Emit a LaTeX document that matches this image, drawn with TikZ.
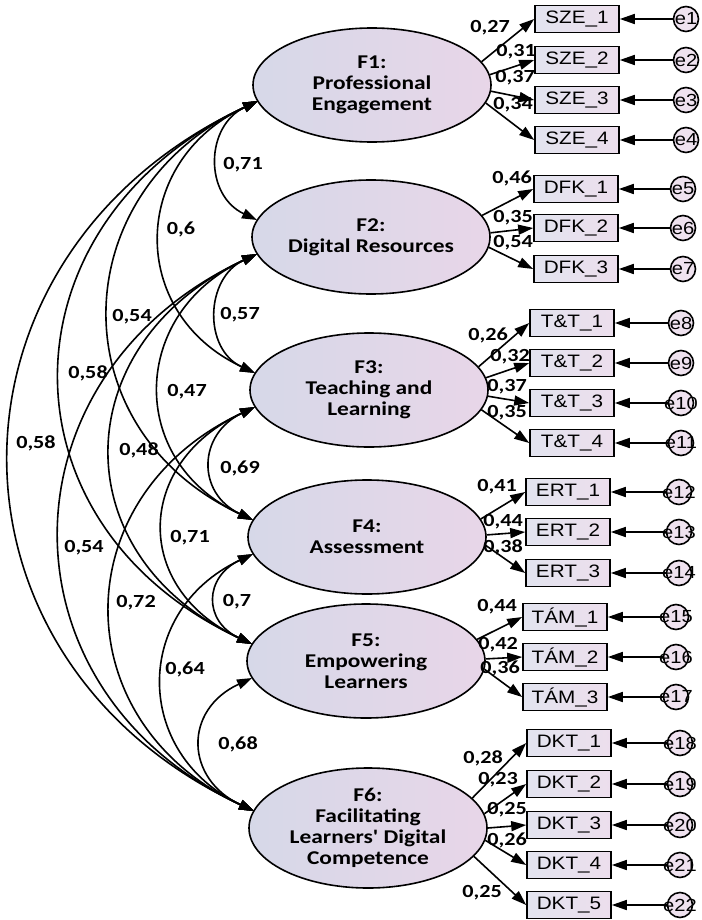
\documentclass[tikz,border=0pt]{standalone}
\usepackage{fontspec}
\setmainfont{Carlito}
\newfontfamily\elfont[FakeStretch=1.2]{Carlito}
\newfontfamily\boxfont[FakeStretch=1.15]{Liberation Sans}
\usetikzlibrary{shapes.geometric,arrows.meta,calc}
\definecolor{elfill}{RGB}{214,216,232}
\definecolor{elpink}{RGB}{232,214,232}
\newcommand{\zc}[1]{\makebox[0pt][c]{#1}}
\tikzset{
  lat/.style={ellipse, draw, line width=1.6pt, minimum width=238pt, minimum height=114pt, inner sep=0pt,
    left color=elfill, middle color=elfill, right color=elpink, align=center,
    font=\elfont\bfseries\fontsize{19.5}{21}\selectfont},
  obs/.style={rectangle, draw, line width=1.6pt, minimum width=84pt, minimum height=27pt, inner sep=0pt,
    left color=elfill!70!white, right color=elpink!80!white, font=\boxfont\fontsize{18}{18}\selectfont},
  err/.style={circle, draw, line width=1.6pt, minimum size=25pt, inner sep=0pt,
    fill=elpink!70!white, font=\boxfont\fontsize{17.5}{17.5}\selectfont},
  load/.style={line width=1.6pt, -{Triangle[length=15pt,width=10pt]}},
  cov/.style={line width=1.6pt, {Triangle[length=15pt,width=10pt]}-{Triangle[length=15pt,width=10pt]}},
  num/.style={font=\elfont\bfseries\fontsize{18.5}{18.5}\selectfont, inner sep=0pt},
}
\begin{document}
\begin{tikzpicture}[x=1pt,y=-1pt]
\fill[white] (0,0) rectangle (701,920);
\useasboundingbox (0,0) rectangle (701,920);

% latent factors
\node[lat] (F1) at (372,85) {F1:\\Professional\\Engagement};
\node[lat] (F2) at (371,237) {F2:\\Digital Resources};
\node[lat] (F3) at (369,390) {F3:\\Teaching and\\Learning};
\node[lat] (F4) at (367,537) {F4:\\Assessment};
\node[lat] (F5) at (366,661) {F5:\\Empowering\\Learners};
\node[lat, minimum height=120pt] (F6) at (368,828) {F6:\\Facilitating\\Learners' Digital\\Competence};

% attach points
\coordinate (F1b) at (258,101);
\coordinate (F2t) at (257,220);
\coordinate (F2b) at (257,254);
\coordinate (F3t) at (255,373);
\coordinate (F3b) at (255,407);
\coordinate (F4t) at (253,520);
\coordinate (F4b) at (253,554);
\coordinate (F5t) at (252,644);
\coordinate (F5b) at (252,678);
\coordinate (F6t) at (254,811);

% covariances
\draw[cov] (F1b) .. controls ($(F1b)+(-53,25)$) and ($(F2t)+(-53,-25)$) .. (F2t);
\draw[cov] (F2b) .. controls ($(F2b)+(-52,24)$) and ($(F3t)+(-52,-24)$) .. (F3t);
\draw[cov] (F3b) .. controls ($(F3b)+(-57,27)$) and ($(F4t)+(-57,-27)$) .. (F4t);
\draw[cov] (F4b) .. controls ($(F4b)+(-49,23)$) and ($(F5t)+(-49,-23)$) .. (F5t);
\draw[cov] (F5b) .. controls ($(F5b)+(-69,32)$) and ($(F6t)+(-69,-32)$) .. (F6t);
\draw[cov] (F1b) .. controls ($(F1b)+(-128,60)$) and ($(F3t)+(-128,-60)$) .. (F3t);
\draw[cov] (F2b) .. controls ($(F2b)+(-127,59)$) and ($(F4t)+(-127,-59)$) .. (F4t);
\draw[cov] (F3b) .. controls ($(F3b)+(-120,56)$) and ($(F5t)+(-120,-56)$) .. (F5t);
\draw[cov] (F4b) .. controls ($(F4b)+(-121,57)$) and ($(F6t)+(-121,-57)$) .. (F6t);
\draw[cov] (F1b) .. controls ($(F1b)+(-195,91)$) and ($(F4t)+(-195,-91)$) .. (F4t);
\draw[cov] (F2b) .. controls ($(F2b)+(-191,89)$) and ($(F5t)+(-191,-89)$) .. (F5t);
\draw[cov] (F3b) .. controls ($(F3b)+(-191,89)$) and ($(F6t)+(-191,-89)$) .. (F6t);
\draw[cov] (F1b) .. controls ($(F1b)+(-259,121)$) and ($(F5t)+(-259,-121)$) .. (F5t);
\draw[cov] (F2b) .. controls ($(F2b)+(-260,121)$) and ($(F6t)+(-260,-121)$) .. (F6t);
\draw[cov] (F1b) .. controls ($(F1b)+(-328,153)$) and ($(F6t)+(-328,-153)$) .. (F6t);

% covariance labels
\node[num] (c12) at (243,165) {0,71};
\node[num] (c13) at (181,229) {0,6};
\node[num] (c14) at (132,317) {0,54};
\node[num] (c15) at (88,373) {0,58};
\node[num] (c16) at (36,443) {0,58};
\node[num] (c23) at (240,315) {0,57};
\node[num] (c24) at (187,392) {0,47};
\node[num] (c25) at (139,450) {0,48};
\node[num] (c26) at (84,548) {0,54};
\node[num] (c34) at (240,468) {0,69};
\node[num] (c35) at (190,538) {0,71};
\node[num] (c36) at (136,603) {0,72};
\node[num] (c45) at (237,602) {0,7};
\node[num] (c46) at (185,669) {0,64};
\node[num] (c56) at (238,744) {0,68};

% observed indicators
\node[obs] (SZE1) at (577,19) {SZE\_1};
\node[obs] (SZE2) at (577,60) {SZE\_2};
\node[obs] (SZE3) at (577,100) {SZE\_3};
\node[obs] (SZE4) at (577,140) {SZE\_4};
\node[obs] (DFK1) at (576,189) {DFK\_1};
\node[obs] (DFK2) at (576,228) {DFK\_2};
\node[obs] (DFK3) at (576,269) {DFK\_3};
\node[obs] (TT1) at (572,323) {T\&T\_1};
\node[obs] (TT2) at (572,363) {T\&T\_2};
\node[obs] (TT3) at (572,403) {T\&T\_3};
\node[obs] (TT4) at (572,443) {T\&T\_4};
\node[obs] (ERT1) at (568,492) {ERT\_1};
\node[obs] (ERT2) at (568,532) {ERT\_2};
\node[obs] (ERT3) at (568,573) {ERT\_3};
\node[obs] (TAM1) at (565,617) {TÁM\_1};
\node[obs] (TAM2) at (565,657) {TÁM\_2};
\node[obs] (TAM3) at (565,697) {TÁM\_3};
\node[obs] (DKT1) at (569,743) {DKT\_1};
\node[obs] (DKT2) at (569,784) {DKT\_2};
\node[obs] (DKT3) at (569,825) {DKT\_3};
\node[obs] (DKT4) at (569,865) {DKT\_4};
\node[obs] (DKT5) at (569,905) {DKT\_5};

% error terms
\node[err] (e1) at (686,19) {\zc{e1}};
\node[err] (e2) at (686,60) {\zc{e2}};
\node[err] (e3) at (686,100) {\zc{e3}};
\node[err] (e4) at (686,140) {\zc{e4}};
\node[err] (e5) at (683,189) {\zc{e5}};
\node[err] (e6) at (683,228) {\zc{e6}};
\node[err] (e7) at (683,269) {\zc{e7}};
\node[err] (e8) at (681,323) {\zc{e8}};
\node[err] (e9) at (681,363) {\zc{e9}};
\node[err] (e10) at (681,403) {\zc{e10}};
\node[err] (e11) at (681,443) {\zc{e11}};
\node[err] (e12) at (679,492) {\zc{e12}};
\node[err] (e13) at (679,532) {\zc{e13}};
\node[err] (e14) at (679,573) {\zc{e14}};
\node[err] (e15) at (676,617) {\zc{e15}};
\node[err] (e16) at (676,657) {\zc{e16}};
\node[err] (e17) at (676,697) {\zc{e17}};
\node[err] (e18) at (680,743) {\zc{e18}};
\node[err] (e19) at (680,784) {\zc{e19}};
\node[err] (e20) at (680,825) {\zc{e20}};
\node[err] (e21) at (680,865) {\zc{e21}};
\node[err] (e22) at (680,905) {\zc{e22}};

\foreach \e/\b in {e1/SZE1,e2/SZE2,e3/SZE3,e4/SZE4,e5/DFK1,e6/DFK2,e7/DFK3,
  e8/TT1,e9/TT2,e10/TT3,e11/TT4,e12/ERT1,e13/ERT2,e14/ERT3,e15/TAM1,e16/TAM2,e17/TAM3,
  e18/DKT1,e19/DKT2,e20/DKT3,e21/DKT4,e22/DKT5}
  \draw[load] (\e) -- (\b);

% loadings
\draw[load] (F1.12) -- (SZE1.west);
\draw[load] (F1.5) -- (SZE2.west);
\draw[load] (F1.-3) -- (SZE3.west);
\draw[load] (F1.-9) -- (SZE4.west);
\draw[load] (F2.11) -- (DFK1.west);
\draw[load] (F2.2) -- (DFK2.west);
\draw[load] (F2.-5) -- (DFK3.west);
\draw[load] (F3.12) -- (TT1.west);
\draw[load] (F3.6) -- (TT2.west);
\draw[load] (F3.-3) -- (TT3.west);
\draw[load] (F3.-10) -- (TT4.west);
\draw[load] (F4.9) -- (ERT1.west);
\draw[load] (F4.1) -- (ERT2.west);
\draw[load] (F4.-4) -- (ERT3.west);
\draw[load] (F5.11) -- (TAM1.west);
\draw[load] (F5.1) -- (TAM2.west);
\draw[load] (F5.-4) -- (TAM3.west);
\draw[load] (F6.16) -- (DKT1.west);
\draw[load] (F6.7) -- (DKT2.west);
\draw[load] (F6.0) -- (DKT3.west);
\draw[load] (F6.-6) -- (DKT4.west);
\draw[load] (F6.-15) -- (DKT5.west);

% loading labels
\node[num] (s1) at (490,28) {0,27};
\node[num] (s2) at (516,52) {0,31};
\node[num] (s3) at (515,78) {0,37};
\node[num] (s4) at (513,105) {0,34};
\node[num] (d1) at (512,178) {0,46};
\node[num] (d2) at (513,218) {0,35};
\node[num] (d3) at (513,243) {0,54};
\node[num] (t1) at (488,335) {0,26};
\node[num] (t2) at (510,357) {0,32};
\node[num] (t3) at (507,387) {0,37};
\node[num] (t4) at (507,413) {0,35};
\node[num] (r1) at (497,487) {0,41};
\node[num] (r2) at (503,522) {0,44};
\node[num] (r3) at (503,547) {0,38};
\node[num] (m1) at (497,607) {0,44};
\node[num] (m2) at (498,645) {0,42};
\node[num] (m3) at (500,668) {0,36};
\node[num] (k1) at (483,758) {0,28};
\node[num] (k2) at (498,780) {0,23};
\node[num] (k3) at (507,810) {0,25};
\node[num] (k4) at (507,840) {0,26};
\node[num] (k5) at (482,893) {0,25};
\end{tikzpicture}
\end{document}
